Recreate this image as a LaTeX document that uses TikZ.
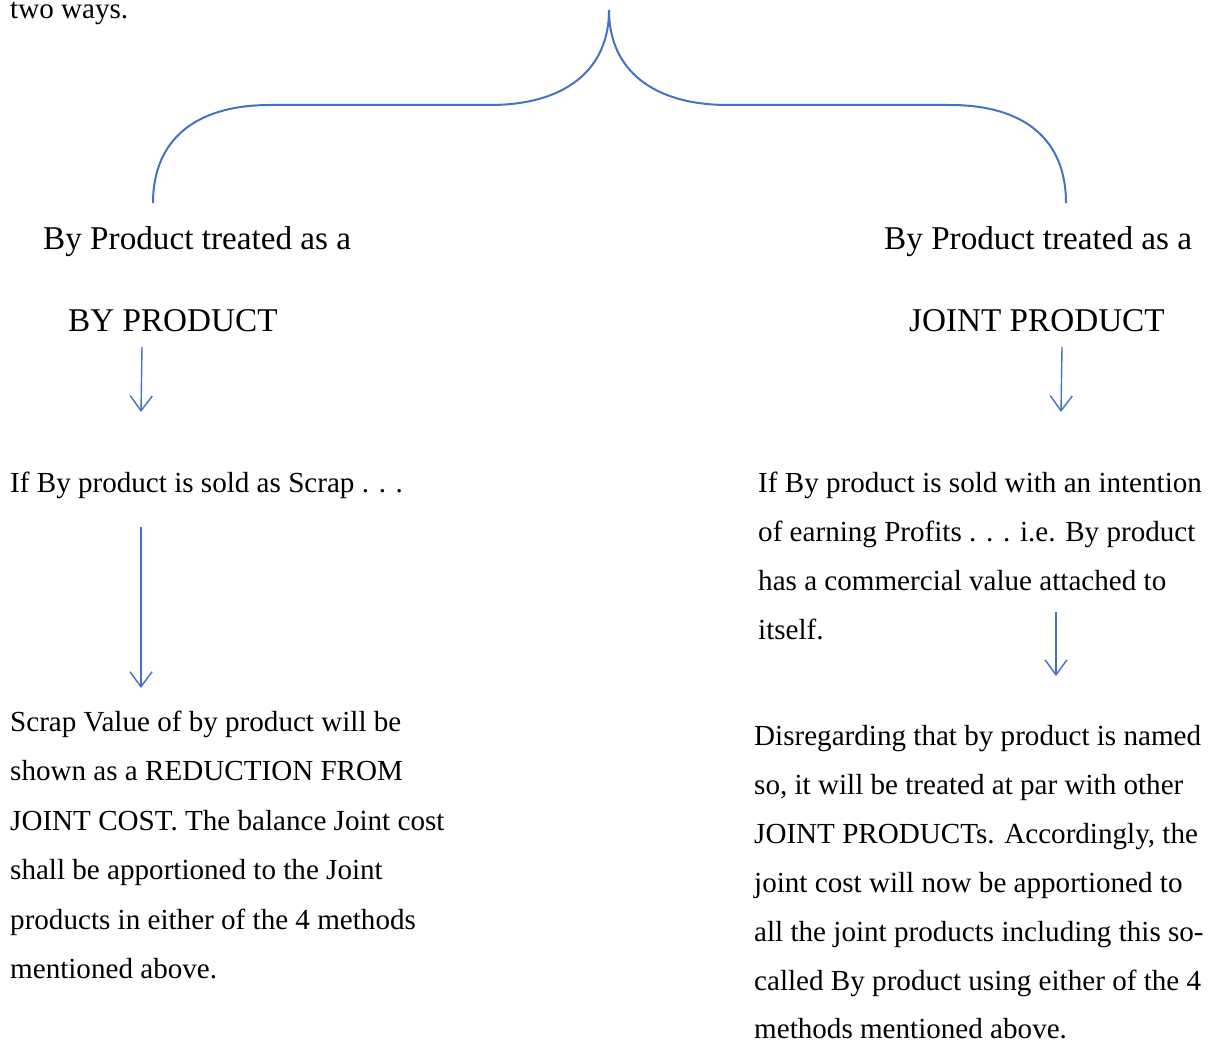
\documentclass[tikz,border=0pt]{standalone}
\usepackage{fontspec}
\setmainfont{Liberation Serif}
\usetikzlibrary{arrows.meta}
\definecolor{wordblue}{RGB}{68,114,196}
\tikzset{
  txt/.style={anchor=base west, inner sep=0pt, font=\fontsize{29.1}{34}\selectfont},
  head/.style={anchor=base west, inner sep=0pt, font=\fontsize{33.2}{38}\selectfont},
  brace/.style={draw=wordblue, line width=2pt},
  flow/.style={draw=wordblue, line width=1.4pt, -{Straight Barb[length=15pt,width=22pt,line width=1.4pt]}},
}
\begin{document}
\begin{tikzpicture}[x=1pt,y=-1pt]
\useasboundingbox (0,0) rectangle (1214,1043);

\node[txt] (intro) at (10,19) {two ways.};

% the splitting brace
\coordinate (tip) at (609,10);
\coordinate (lend) at (153,203);
\coordinate (rend) at (1066,203);
\draw[brace] (lend) .. controls (153,140) and (195,105) .. (270,105)
  -- (490,105) .. controls (565,105) and (609,70) .. (tip)
  .. controls (609,70) and (653,105) .. (728,105)
  -- (950,105) .. controls (1025,105) and (1066,140) .. (rend);

% left branch
\node[head] (lh1) at (43,249) {By Product treated as a};
\node[head] (lh2) at (68,331) {BY PRODUCT};
\node[txt] (ls) at (10,492) {If By product is sold as Scrap . . .};
\node[txt] (lr1) at (10,731) {Scrap Value of by product will be};
\node[txt] (lr2) at (10,780) {shown as a REDUCTION FROM};
\node[txt] (lr3) at (10,830) {JOINT COST. The balance Joint cost};
\node[txt] (lr4) at (10,879) {shall be apportioned to the Joint};
\node[txt] (lr5) at (10,929) {products in either of the 4 methods};
\node[txt] (lr6) at (10,978) {mentioned above.};

% right branch
\node[head] (rh1) at (884,249) {By Product treated as a};
\node[head] (rh2) at (909,331) {JOINT PRODUCT};
\node[txt] (rs1) at (758,492) {If By product is sold with an intention};
\node[txt] (rs2) at (758,541) {of earning Profits . . . i.e. By product};
\node[txt] (rs3) at (758,590) {has a commercial value attached to};
\node[txt] (rs4) at (758,639) {itself.};
\node[txt] (rr1) at (754,745) {Disregarding that by product is named};
\node[txt] (rr2) at (754,794) {so, it will be treated at par with other};
\node[txt] (rr3) at (754,843) {JOINT PRODUCTs. Accordingly, the};
\node[txt] (rr4) at (754,892) {joint cost will now be apportioned to};
\node[txt] (rr5) at (754,941) {all the joint products including this so-};
\node[txt] (rr6) at (754,990) {called By product using either of the 4};
\node[txt] (rr7) at (754,1038) {methods mentioned above.};

% connectors
\coordinate (a1s) at (142,347); \coordinate (a1e) at (141,412);
\coordinate (a2s) at (141,527); \coordinate (a2e) at (141,688);
\coordinate (a3s) at (1062,347); \coordinate (a3e) at (1061,412);
\coordinate (a4s) at (1056,612); \coordinate (a4e) at (1056,676);
\draw[flow] (a1s) -- (a1e);
\draw[flow] (a2s) -- (a2e);
\draw[flow] (a3s) -- (a3e);
\draw[flow] (a4s) -- (a4e);
\end{tikzpicture}
\end{document}
